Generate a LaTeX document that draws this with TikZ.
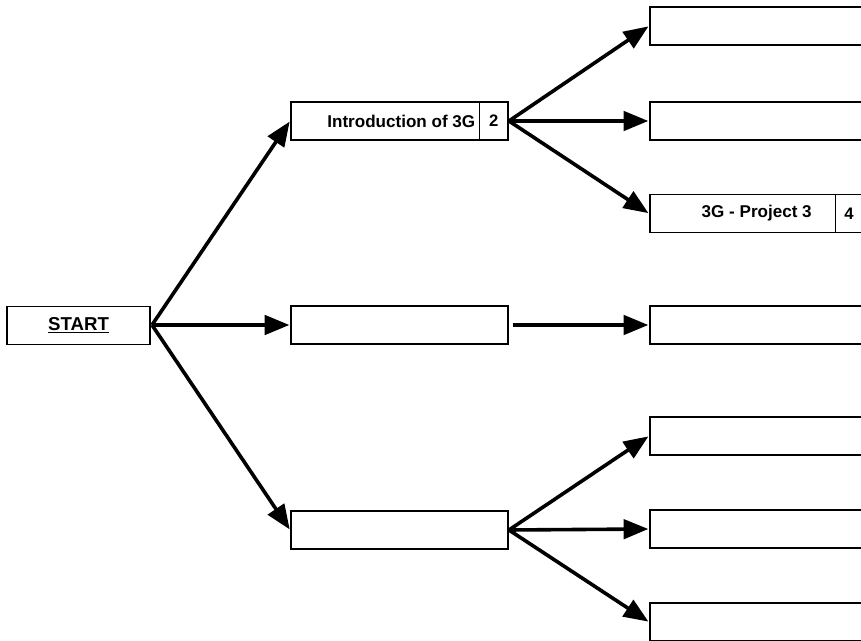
\documentclass[tikz,border=0pt]{standalone}
\usepackage{fontspec}
\setmainfont{Liberation Sans}
\usetikzlibrary{arrows.meta}
\begin{document}
\begin{tikzpicture}[x=0.75pt,y=-0.75pt,
  box/.style={draw,line width=1.4pt,rectangle,minimum height=28.5pt,inner sep=0pt,fill=white},
  midbox/.style={box,minimum width=162.75pt},
  rightbox/.style={box,minimum width=180pt},
  cellbox/.style={draw,line width=1pt,rectangle,minimum height=28.5pt,inner sep=0pt,font=\bfseries\fontsize{12.5}{14}\selectfont},
  label/.style={inner sep=0pt,font=\bfseries\fontsize{12.8}{14}\selectfont},
  link/.style={line width=2.7pt,-{Triangle[length=18.5pt,width=14.5pt]},shorten >=0.5pt}
]
\useasboundingbox (0,0) rectangle (861,641);
\clip (0,0) rectangle (861,641);
\fill[white] (0,0) rectangle (861,641);

% start box
\node[box,minimum width=107.25pt] (start) at (78.5,325.5) {};
\node[label,font=\bfseries\fontsize{14}{16}\selectfont] (starttext) at (start) {\underline{START}};

% middle column
\node[midbox] (intro) at (399.5,121) {};
\node[midbox] (mid) at (399.5,325) {};
\node[midbox] (low) at (399.5,530) {};
\node[cellbox,minimum width=21.75pt,anchor=east] (introno) at (intro.east) {2};
\node[label,anchor=east] (introtext) at (475.5,121) {Introduction of 3G};

% right column (runs past the right edge)
\node[rightbox,anchor=west] (r1) at (649,26) {};
\node[rightbox,anchor=west] (r2) at (649,121) {};
\node[rightbox,anchor=west] (r3) at (649,213.5) {};
\node[rightbox,anchor=west] (r4) at (649,325) {};
\node[rightbox,anchor=west] (r5) at (649,436) {};
\node[rightbox,anchor=west] (r6) at (649,529) {};
\node[rightbox,anchor=west] (r7) at (649,622) {};
\node[cellbox,minimum width=30pt,anchor=west] (projno) at (835,213.5) {\hspace*{-10pt}4};
\node[label,anchor=east] (projtext) at (812,213.5) {3G - Project 3};

% connectors
\coordinate (fork) at (152,325);
\draw[link] (fork) -- (intro.west);
\draw[link] (fork) -- (mid.west);
\draw[link] (fork) -- (low.west);

\draw[link] (intro.east) -- (r1.west);
\draw[link] (intro.east) -- (r2.west);
\draw[link] (intro.east) -- (r3.west);

\draw[link] ([xshift=3pt]mid.east) -- (r4.west);

\draw[link] (low.east) -- (r5.west);
\draw[link] (low.east) -- (r6.west);
\draw[link] (low.east) -- (r7.west);
\end{tikzpicture}
\end{document}
